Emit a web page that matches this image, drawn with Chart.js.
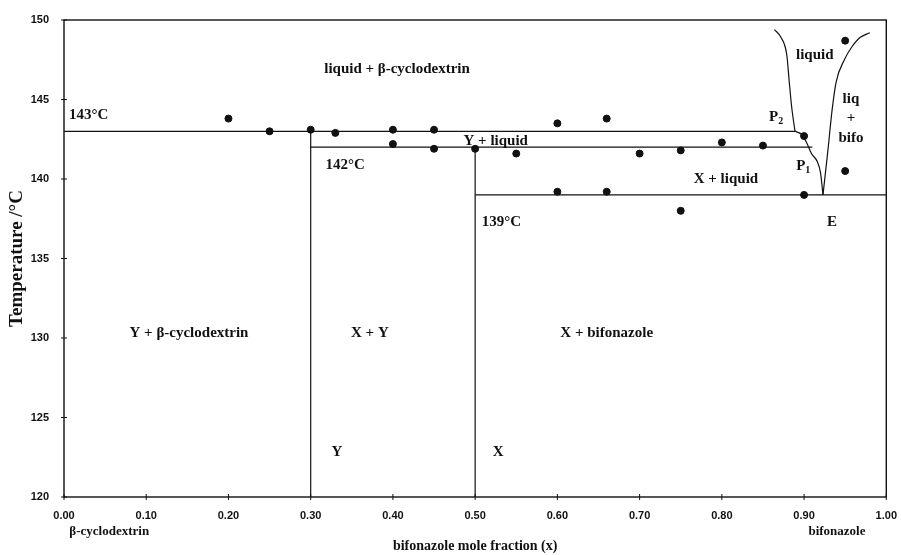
<!DOCTYPE html>
<html><head><meta charset="utf-8">
<script src="https://cdn.jsdelivr.net/npm/chart.js@4/dist/chart.umd.min.js"></script>
<style>html,body{margin:0;padding:0;background:#fff}#wrap{width:901px;height:555px;position:relative}</style>
</head><body><div id="wrap"><canvas id="c"></canvas></div>
<script>
// ---- tick values ----
const xTickValues = [0, 0.1, 0.2, 0.3, 0.4, 0.5, 0.6, 0.7, 0.8, 0.9, 1.0];
const yTickValues = [120, 125, 130, 135, 140, 145, 150];

// ---- experimental points (mole fraction, temperature) ----
const pointX = [0.20, 0.25, 0.30, 0.33, 0.40, 0.45, 0.40, 0.45, 0.50, 0.55, 0.60, 0.66, 0.70, 0.75, 0.80, 0.85, 0.90, 0.60, 0.66, 0.75, 0.90, 0.95, 0.95];
const pointT = [143.8, 143.0, 143.1, 142.9, 143.1, 143.1, 142.2, 141.9, 141.9, 141.6, 143.5, 143.8, 141.6, 141.8, 142.3, 142.1, 142.7, 139.2, 139.2, 138.0, 139.0, 140.5, 148.7];

// ---- phase boundaries ----
const line143X = [0.00, 0.89];   const line143T = [143, 143];
const line142X = [0.30, 0.91];   const line142T = [142, 142];
const line139X = [0.50, 1.00];   const line139T = [139, 139];
const lineYX = [0.30, 0.30];     const lineYT = [120, 143];
const lineXX = [0.50, 0.50];     const lineXT = [120, 142];
const liqLeftX = [0.864, 0.872, 0.879, 0.882, 0.885, 0.889];
const liqLeftT = [149.4, 148.9, 147.8, 146.1, 144.5, 143.0];
const periX = [0.889, 0.897, 0.903, 0.909, 0.916, 0.920, 0.923];
const periT = [143.0, 142.8, 142.3, 141.6, 141.1, 140.4, 139.0];
const liqRightX = [0.923, 0.929, 0.934, 0.939, 0.949, 0.958, 0.968, 0.980];
const liqRightT = [139.0, 141.8, 144.3, 146.1, 147.5, 148.3, 148.9, 149.2];

// ---- region labels ----
const labelText = ["liquid + β-cyclodextrin", "143°C", "142°C", "Y + liquid", "X + liquid", "139°C", "E", "P", "P", "liquid", "liq", "+", "bifo", "Y + β-cyclodextrin", "X + Y", "X + bifonazole", "Y", "X"];
const labelSub  = ["", "", "", "", "", "", "", "2", "1", "", "", "", "", "", "", "", "", ""];
const labelX    = [0.405, 0.030, 0.342, 0.525, 0.805, 0.532, 0.934, 0.866, 0.899, 0.913, 0.957, 0.957, 0.957, 0.152, 0.372, 0.66, 0.332, 0.528];
const labelT    = [146.9, 144.0, 140.9, 142.4, 140.0, 137.3, 137.3, 143.9, 140.8, 147.8, 145.0, 143.8, 142.6, 130.3, 130.3, 130.3, 122.8, 122.8];

const pts = (xs, ts) => xs.map((x, i) => ({x: x, y: ts[i]}));
const lineDs = (xs, ts, tension) => ({
  type: 'line', data: pts(xs, ts), borderColor: '#111', borderWidth: 1.2,
  pointRadius: 0, fill: false, tension: tension || 0, cubicInterpolationMode: 'monotone', showLine: true
});

const serif = '"Liberation Serif", "Times New Roman", serif';
const sans = '"Liberation Sans", Arial, sans-serif';

const decor = {
  id: 'decor',
  afterDatasetsDraw(chart) {
    const {ctx, chartArea: a, scales} = chart;
    const xs = scales.x, ys = scales.y;
    ctx.save();
    // frame
    ctx.strokeStyle = '#111'; ctx.lineWidth = 1.4;
    ctx.strokeRect(a.left, a.top, a.right - a.left, a.bottom - a.top);
    // crossing tick marks
    ctx.lineWidth = 1;
    xTickValues.forEach(v => { const p = xs.getPixelForValue(v); ctx.beginPath(); ctx.moveTo(p, a.bottom - 3); ctx.lineTo(p, a.bottom + 3); ctx.stroke(); });
    yTickValues.forEach(v => { const p = ys.getPixelForValue(v); ctx.beginPath(); ctx.moveTo(a.left - 3, p); ctx.lineTo(a.left + 3, p); ctx.stroke(); });
    // region labels
    ctx.fillStyle = '#111';
    ctx.textBaseline = 'middle';
    labelText.forEach((t, i) => {
      const px = xs.getPixelForValue(labelX[i]), py = ys.getPixelForValue(labelT[i]);
      ctx.font = 'bold 15px ' + serif;
      const w = ctx.measureText(t).width;
      let sw = 0;
      if (labelSub[i]) { ctx.font = 'bold 10px ' + serif; sw = ctx.measureText(labelSub[i]).width; }
      const x0 = px - (w + sw) / 2;
      ctx.font = 'bold 15px ' + serif; ctx.textAlign = 'left';
      ctx.fillText(t, x0, py);
      if (labelSub[i]) { ctx.font = 'bold 10px ' + serif; ctx.fillText(labelSub[i], x0 + w, py + 4); }
    });
    // component names under the axis
    ctx.font = 'bold 13px ' + serif; ctx.textAlign = 'center';
    ctx.fillText('β-cyclodextrin', xs.getPixelForValue(0.055), 532);
    ctx.fillText('bifonazole', xs.getPixelForValue(0.94), 532);
    ctx.restore();
  }
};

new Chart(document.getElementById('c'), {
  type: 'scatter',
  data: {
    datasets: [
      lineDs(line143X, line143T), lineDs(line142X, line142T), lineDs(line139X, line139T),
      lineDs(lineYX, lineYT), lineDs(lineXX, lineXT),
      lineDs(liqLeftX, liqLeftT, 0.4), lineDs(periX, periT, 0.4), lineDs(liqRightX, liqRightT, 0.4),
      { type: 'scatter', data: pts(pointX, pointT), backgroundColor: '#111', borderColor: '#111', pointRadius: 3.5, pointHoverRadius: 3.5 }
    ]
  },
  options: {
    responsive: true, maintainAspectRatio: false, animation: false,
    layout: { padding: { left: 0, right: 5, top: 20, bottom: 0 } },
    plugins: { legend: { display: false }, tooltip: { enabled: false } },
    scales: {
      x: {
        type: 'linear', min: 0, max: 1,
        afterBuildTicks: s => { s.ticks = xTickValues.map(v => ({value: v})); },
        afterFit: s => { s.height = 58; },
        grid: { display: false }, border: { display: false },
        ticks: { color: '#111', padding: 4, maxRotation: 0, autoSkip: false, font: { family: sans, size: 11, weight: 'bold' }, callback: v => Number(v).toFixed(2) },
        title: { display: true, text: 'bifonazole mole fraction (x)', color: '#111', padding: { top: 0, bottom: 0 }, font: { family: serif, size: 14, weight: 'bold' } }
      },
      y: {
        type: 'linear', min: 120, max: 150,
        afterBuildTicks: s => { s.ticks = yTickValues.map(v => ({value: v})); },
        afterFit: s => { s.width = 64; },
        grid: { display: false }, border: { display: false },
        ticks: { color: '#111', padding: 7, autoSkip: false, font: { family: sans, size: 11, weight: 'bold' }, callback: v => String(v) },
        title: { display: true, text: 'Temperature /°C', color: '#111', padding: { top: 6, bottom: 0 }, font: { family: serif, size: 19, weight: 'bold' } }
      }
    }
  },
  plugins: [decor]
});
</script></body></html>
